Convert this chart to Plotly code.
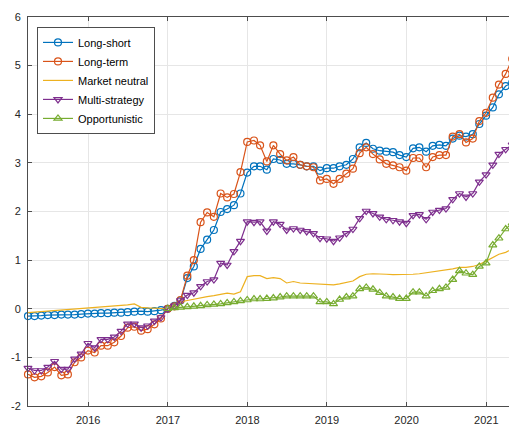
import pandas as pd
import plotly.graph_objects as go

# Monthly (month-end) observation dates: Mar 2015 .. May 2021
dates = pd.date_range("2015-04-01", periods=75, freq="MS") - pd.Timedelta(days=1)

long_short = [-0.15, -0.15, -0.14, -0.13, -0.13, -0.12, -0.12, -0.12, -0.11, -0.10, -0.10, -0.09, -0.09, -0.08,
              -0.08, -0.07, -0.06, -0.05, -0.06, -0.05, -0.03, 0.00,
              0.06, 0.17, 0.63, 0.87, 1.23, 1.42, 1.62, 1.99, 2.05, 2.13, 2.37, 2.80, 2.93, 2.93, 2.86, 3.08,
              3.06, 2.98, 2.98, 2.96, 2.93, 2.93, 2.84, 2.89, 2.89, 2.93, 2.96, 3.08, 3.32, 3.41, 3.29, 3.25,
              3.23, 3.22, 3.16, 3.12, 3.30, 3.32, 3.23, 3.35, 3.37, 3.35, 3.50, 3.56, 3.54, 3.59, 3.80, 3.97,
              4.14, 4.41, 4.58, 4.65, 4.57]

long_term = [-1.35, -1.41, -1.39, -1.31, -1.20, -1.37, -1.35, -1.10, -1.00, -0.86, -0.90, -0.76, -0.76, -0.69,
             -0.56, -0.39, -0.37, -0.45, -0.42, -0.32, -0.20, 0.00,
             0.05, 0.18, 0.68, 1.00, 1.78, 1.98, 1.89, 2.37, 2.29, 2.36, 2.81, 3.43, 3.46, 3.36, 3.03, 3.36,
             3.18, 3.05, 3.12, 2.96, 2.93, 2.91, 2.64, 2.67, 2.57, 2.67, 2.78, 2.88, 3.20, 3.32, 3.18, 3.07,
             2.98, 2.95, 2.91, 2.84, 3.10, 3.10, 2.91, 3.12, 3.16, 3.16, 3.54, 3.59, 3.42, 3.50, 3.86, 4.03,
             4.34, 4.61, 4.83, 5.14, 5.06]

market_neutral = [-0.08, -0.07, -0.06, -0.05, -0.04, -0.03, -0.02, -0.01, 0.00, 0.01, 0.02, 0.03, 0.04, 0.05,
                  0.06, 0.08, 0.10, 0.03, 0.02, 0.01, 0.01, 0.00,
                  0.08, 0.14, 0.17, 0.20, 0.22, 0.25, 0.27, 0.29, 0.32, 0.30, 0.35, 0.66, 0.68, 0.68, 0.62, 0.64,
                  0.62, 0.53, 0.56, 0.53, 0.52, 0.51, 0.50, 0.49, 0.49, 0.51, 0.54, 0.57, 0.66, 0.71, 0.72, 0.72,
                  0.71, 0.70, 0.70, 0.70, 0.71, 0.72, 0.74, 0.76, 0.77, 0.79, 0.82, 0.85, 0.85, 0.87, 0.91, 0.98,
                  1.06, 1.12, 1.16, 1.23, 1.30]

multi_strategy = [-1.22, -1.27, -1.27, -1.20, -1.08, -1.24, -1.24, -1.03, -0.93, -0.71, -0.80, -0.63, -0.63, -0.58,
                  -0.46, -0.31, -0.31, -0.39, -0.35, -0.25, -0.18, 0.00,
                  0.06, 0.17, 0.28, 0.33, 0.46, 0.56, 0.60, 0.94, 0.90, 1.18, 1.39, 1.79, 1.78, 1.79, 1.60, 1.79,
                  1.74, 1.62, 1.65, 1.62, 1.59, 1.55, 1.45, 1.44, 1.39, 1.46, 1.55, 1.64, 1.86, 2.01, 1.96, 1.89,
                  1.84, 1.82, 1.79, 1.76, 1.92, 1.94, 1.84, 1.99, 2.03, 2.06, 2.25, 2.37, 2.30, 2.37, 2.61, 2.76,
                  2.96, 3.18, 3.28, 3.37, 3.43]

opportunistic = [None] * 21 + [0.00,
                 0.02, 0.03, 0.04, 0.05, 0.06, 0.08, 0.09, 0.10, 0.12, 0.14, 0.16, 0.18, 0.20, 0.20, 0.21, 0.22,
                 0.24, 0.26, 0.26, 0.26, 0.26, 0.26, 0.14, 0.14, 0.10, 0.19, 0.24, 0.26, 0.41, 0.44, 0.40, 0.33,
                 0.26, 0.24, 0.21, 0.21, 0.34, 0.34, 0.26, 0.37, 0.41, 0.44, 0.60, 0.78, 0.73, 0.70, 0.87, 0.94,
                 1.31, 1.45, 1.64, 1.76, 1.62]

series_names = ["Long-short", "Long-term", "Market neutral", "Multi-strategy", "Opportunistic"]
x_tick_vals = ["2016-01-01", "2017-01-01", "2018-01-01", "2019-01-01", "2020-01-01", "2021-01-01"]
x_tick_text = ["2016", "2017", "2018", "2019", "2020", "2021"]
y_tick_vals = [-2, -1, 0, 1, 2, 3, 4, 5, 6]
y_tick_text = ["-2", "-1", "0", "1", "2", "3", "4", "5", "6"]

colors = ["#0072BD", "#D95319", "#EDB120", "#7E2F8E", "#77AC30"]
symbols = ["circle-open", "circle-open", None, "triangle-down-open", "triangle-up-open"]
values = [long_short, long_term, market_neutral, multi_strategy, opportunistic]

FONT = "Liberation Sans, Arial, Helvetica, sans-serif"

fig = go.Figure()
for name, vals, col, sym in zip(series_names, values, colors, symbols):
    if sym is None:
        fig.add_trace(go.Scatter(x=dates, y=vals, name=name, mode="lines",
                                 line=dict(color=col, width=1.2)))
    else:
        fig.add_trace(go.Scatter(x=dates, y=vals, name=name, mode="lines+markers",
                                 line=dict(color=col, width=1.2),
                                 marker=dict(symbol=sym, size=7, color=col,
                                             line=dict(color=col, width=1.2)),
                                 cliponaxis=False))

axis_common = dict(
    showline=True, linecolor="#4d4d4d", linewidth=1,
    ticks="inside", ticklen=4, tickcolor="#4d4d4d", tickwidth=1,
    showgrid=True, gridcolor="#e6e6e6", gridwidth=1,
    zeroline=False,
    tickfont=dict(family=FONT, size=11, color="#262626"),
)

# The page body has an 8px default margin, so the figure is 8px smaller and the
# margins are reduced accordingly to put the plot area where the reference has it.
fig.update_layout(
    width=509, height=418,
    margin=dict(l=20, r=0, t=9, b=17),
    paper_bgcolor="white", plot_bgcolor="white",
    font=dict(family=FONT, size=11, color="#262626"),
    showlegend=True,
    legend=dict(x=0.0184, y=0.9745, xanchor="left", yanchor="top",
                bgcolor="white", bordercolor="#4d4d4d", borderwidth=1,
                font=dict(family=FONT, size=11, color="#000000"),
                itemwidth=30, tracegroupgap=0),
    xaxis=dict(type="date", range=["2015-03-31", "2021-05-22"],
               tickvals=x_tick_vals, ticktext=x_tick_text, mirror="ticks",
               ticklabelstandoff=4, **axis_common),
    yaxis=dict(range=[-2, 6], tickvals=y_tick_vals, ticktext=y_tick_text,
               ticklabelstandoff=4, **axis_common),
)

fig.write_html("out.html")
